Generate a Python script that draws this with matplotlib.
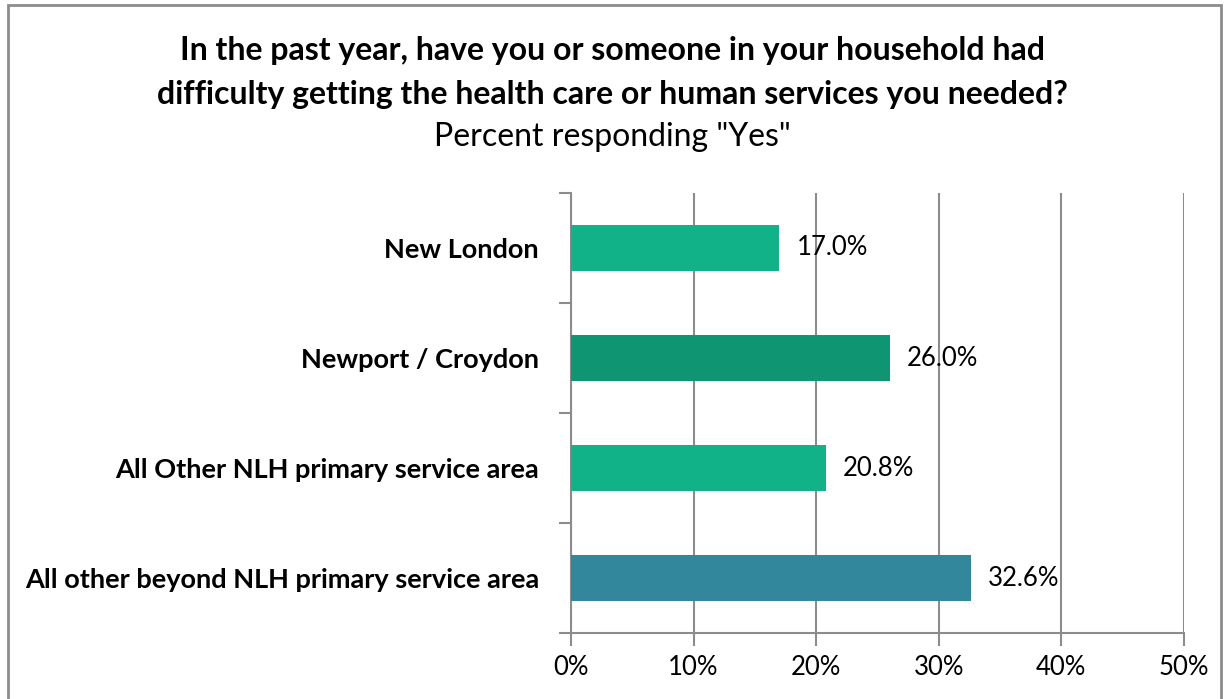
import matplotlib.pyplot as plt
from matplotlib.patches import Rectangle

categories = ["New London", "Newport / Croydon", "All Other NLH primary service area",
              "All other beyond NLH primary service area"]
values = [17.0, 26.0, 20.8, 32.6]
colors = ["#12b289", "#0f9571", "#12b289", "#32879d"]
xticks = [0, 10, 20, 30, 40, 50]

plt.rcParams['font.family'] = ['Lato', 'DejaVu Sans']

fig = plt.figure(figsize=(12.24, 6.99), dpi=100)
ax = fig.add_axes([0.4665, 0.0944, 0.5008, 0.6295])

ypos = list(range(len(categories)))
ax.barh(ypos, values, height=0.41, color=colors, zorder=3)
for y, v in zip(ypos, values):
    ax.text(v + 1.4, y, f"{v:.1f}%", va="center", ha="left", fontsize=18.5, zorder=4)

ax.set_xlim(0, 50)
ax.set_ylim(len(categories) - 0.5, -0.5)
ax.set_xticks(xticks)
ax.set_xticklabels([f"{t}%" for t in xticks], fontsize=18.5)
ax.xaxis.grid(True, color="#8c8c8c", linewidth=1.5, zorder=0)

# category labels sit between the boundary ticks
ax.set_yticks([y - 0.5 for y in ypos] + [len(categories) - 0.5])
ax.set_yticklabels([])
ax.set_yticks(ypos, minor=True)
ax.set_yticklabels(categories, minor=True, fontsize=19.5, fontweight="bold")
ax.tick_params(axis="y", which="minor", length=0, pad=23)
ax.tick_params(axis="y", which="major", length=9, width=1.5, color="#8c8c8c")
ax.tick_params(axis="x", length=9, width=1.5, color="#8c8c8c", pad=7)

for side in ["top", "right"]:
    ax.spines[side].set_visible(False)
for side in ["left", "bottom"]:
    ax.spines[side].set_color("#8c8c8c")
    ax.spines[side].set_linewidth(1.5)

fig.text(0.5, 0.928, "In the past year, have you or someone in your household had",
         ha="center", va="center", fontsize=23, fontweight="bold")
fig.text(0.5, 0.865, "difficulty getting the health care or human services you needed?",
         ha="center", va="center", fontsize=23, fontweight="bold")
fig.text(0.5, 0.804, 'Percent responding "Yes"', ha="center", va="center", fontsize=23)

fig.patches.append(Rectangle((8 / 1224, -0.01), 1213 / 1224, 1 - 5 / 699 + 0.01,
                             transform=fig.transFigure, fill=False,
                             edgecolor="#8c8c8c", linewidth=2))

fig.savefig("out.png", dpi=100)
